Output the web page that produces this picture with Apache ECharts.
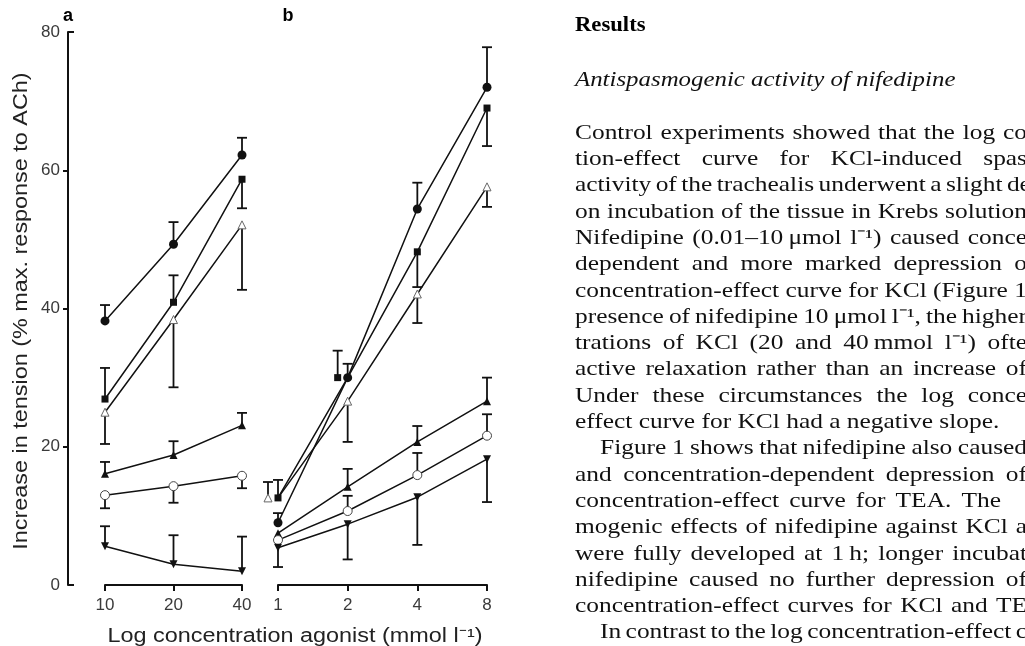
<!DOCTYPE html>
<html>
<head>
<meta charset="utf-8">
<script src="https://cdn.jsdelivr.net/npm/echarts@6/dist/echarts.min.js"></script>
<style>
  html, body { margin: 0; padding: 0; background: #fff; }
  #chart { width: 1025px; height: 646px; }
</style>
</head>
<body>
<div id="chart"></div>
<script>
// panel a: KCl (mmol l-1), panel b: TEA (mmol l-1)
const catsA = ['10', '20', '40']
const catsB = ['1', '2', '4', '8']

// panel a means and the end of the drawn error bar
const aCircle = [38.2, 49.3, 62.2]
const aCircleErr = [40.5, 52.5, 64.7]
const aSquare = [26.9, 40.9, 58.7]
const aSquareErr = [31.4, 44.8, 54.5]
const aOpenTri = [25.0, 38.4, 52.1]
const aOpenTriErr = [20.4, 28.6, 42.7]
const aTri = [16.1, 18.8, 23.1]
const aTriErr = [17.8, 20.8, 24.9]
const aOpenCircle = [13.0, 14.3, 15.8]
const aOpenCircleErr = [11.1, 11.9, 14.0]
const aInvTri = [5.6, 3.0, 2.0]
const aInvTriErr = [8.5, 7.2, 7.0]

// panel b
const bCircle = [9.0, 30.0, 54.4, 72.0]
const bCircleErr = [10.4, 32.0, 58.2, 77.8]
const bSquare = [12.6, 30.0, 48.2, 69.0]
const bSquareErr = [15.2, 33.9, 43.1, 63.5]
const bOpenTri = [12.6, 26.6, 42.1, 57.6]
const bOpenTriErr = [14.9, 20.7, 37.9, 54.7]
const bTri = [7.5, 14.2, 20.7, 26.6]
const bTriErr = [null, 16.8, 23.0, 30.0]
const bOpenCircle = [6.5, 10.7, 15.9, 21.6]
const bOpenCircleErr = [null, 12.9, 19.1, 24.7]
const bInvTri = [5.4, 8.8, 12.7, 18.2]
const bInvTriErr = [2.6, 3.7, 5.8, 12.0]

const yTicks = [0, 20, 40, 60, 80]

const bodyLines = [
  'Control experiments showed that the log co',
  'tion-effect curve for KCl-induced spas',
  'activity of the trachealis underwent a slight de',
  'on incubation of the tissue in Krebs solution',
  'Nifedipine (0.01\u201310\u2009\u03bcmol l\u207b\u00b9) caused conce',
  'dependent and more marked depression o',
  'concentration-effect curve for KCl (Figure 1',
  'presence of nifedipine 10\u2009\u03bcmol l\u207b\u00b9, the higher',
  'trations of KCl (20 and 40\u2009mmol l\u207b\u00b9) ofte',
  'active relaxation rather than an increase of',
  'Under these circumstances the log conce',
  'effect curve for KCl had a negative slope.',
  'Figure 1 shows that nifedipine also caused',
  'and concentration-dependent depression of',
  'concentration-effect curve for TEA. The',
  'mogenic effects of nifedipine against KCl a',
  'were fully developed at 1\u2009h; longer incubat',
  'nifedipine caused no further depression of',
  'concentration-effect curves for KCl and TE',
  'In contrast to the log concentration-effect c'
]

const INK = '#111'
const SANS = '"Liberation Sans", Arial, sans-serif'
const SERIF = '"Liberation Serif", "Times New Roman", serif'

// horizontal nudges (px) used in the figure to separate overlapping points
const nudge = { bSquare: [0, -10, 0, 0], bOpenTri: [-10, 0, 0, 0] }

const marks = {
  circle: { symbol: 'circle', symbolSize: 9, itemStyle: { color: INK, borderWidth: 0 } },
  square: { symbol: 'rect', symbolSize: 7, itemStyle: { color: INK, borderWidth: 0 } },
  openTri: { symbol: 'triangle', symbolSize: 8, itemStyle: { color: '#fff', borderColor: '#666', borderWidth: 1 } },
  tri: { symbol: 'triangle', symbolSize: 8, itemStyle: { color: INK, borderWidth: 0 } },
  openCircle: { symbol: 'circle', symbolSize: 9, itemStyle: { color: '#fff', borderColor: '#444', borderWidth: 1 } },
  invTri: { symbol: 'triangle', symbolSize: 8, symbolRotate: 180, itemStyle: { color: INK, borderWidth: 0 } }
}

const groups = [
  { grid: 0, key: 'aCircle', mark: 'circle', v: aCircle, e: aCircleErr },
  { grid: 0, key: 'aSquare', mark: 'square', v: aSquare, e: aSquareErr },
  { grid: 0, key: 'aOpenTri', mark: 'openTri', v: aOpenTri, e: aOpenTriErr },
  { grid: 0, key: 'aTri', mark: 'tri', v: aTri, e: aTriErr },
  { grid: 0, key: 'aOpenCircle', mark: 'openCircle', v: aOpenCircle, e: aOpenCircleErr },
  { grid: 0, key: 'aInvTri', mark: 'invTri', v: aInvTri, e: aInvTriErr },
  { grid: 1, key: 'bCircle', mark: 'circle', v: bCircle, e: bCircleErr },
  { grid: 1, key: 'bSquare', mark: 'square', v: bSquare, e: bSquareErr },
  { grid: 1, key: 'bOpenTri', mark: 'openTri', v: bOpenTri, e: bOpenTriErr },
  { grid: 1, key: 'bTri', mark: 'tri', v: bTri, e: bTriErr },
  { grid: 1, key: 'bOpenCircle', mark: 'openCircle', v: bOpenCircle, e: bOpenCircleErr },
  { grid: 1, key: 'bInvTri', mark: 'invTri', v: bInvTri, e: bInvTriErr }
]

const errorBars = (g) => {
  const dx = nudge[g.key] || []
  const data = []
  g.v.forEach((val, i) => {
    if (g.e[i] != null) data.push([i, val, g.e[i], dx[i] || 0])
  })
  return {
    type: 'custom',
    xAxisIndex: g.grid,
    yAxisIndex: g.grid,
    z: 1,
    silent: true,
    data: data,
    renderItem: (params, api) => {
      const p = api.coord([api.value(0), api.value(1)])
      const q = api.coord([api.value(0), api.value(2)])
      const x = p[0] + api.value(3)
      const style = { stroke: INK, lineWidth: 1.8 }
      return {
        type: 'group',
        children: [
          { type: 'line', shape: { x1: x, y1: p[1], x2: x, y2: q[1] }, style: style },
          { type: 'line', shape: { x1: x - 5, y1: q[1], x2: x + 5, y2: q[1] }, style: style }
        ]
      }
    }
  }
}

const lineSeries = (g) => {
  const dx = nudge[g.key] || []
  const m = marks[g.mark]
  return {
    type: 'line',
    xAxisIndex: g.grid,
    yAxisIndex: g.grid,
    z: 3,
    symbol: m.symbol,
    symbolSize: m.symbolSize,
    symbolRotate: m.symbolRotate || 0,
    showAllSymbol: true,
    lineStyle: { color: INK, width: 1.5 },
    itemStyle: m.itemStyle,
    data: g.v.map((val, i) => dx[i] ? { value: val, symbolOffset: [dx[i], 0] } : val)
  }
}

const series = []
groups.forEach(g => series.push(errorBars(g)))
groups.forEach(g => series.push(lineSeries(g)))

const mkX = (idx, cats) => ({
  type: 'category',
  gridIndex: idx,
  data: cats,
  boundaryGap: false,
  offset: 2,
  axisLine: { lineStyle: { color: INK, width: 2 } },
  axisTick: { alignWithLabel: true, length: 6, lineStyle: { color: INK, width: 2 } },
  axisLabel: { color: '#3a3a3a', fontSize: 17, fontFamily: SANS, margin: 10 }
})

const mkY = (idx, visible) => ({
  type: 'value',
  gridIndex: idx,
  position: 'left',
  min: yTicks[0],
  max: yTicks[yTicks.length - 1],
  interval: yTicks[1] - yTicks[0],
  show: visible,
  offset: 37,
  axisLine: { show: true, lineStyle: { color: INK, width: 2 } },
  // inner ticks point outwards, the two end ticks hook inwards (see yHooks)
  axisTick: { show: true, length: 5, customValues: yTicks.slice(1, -1), lineStyle: { color: INK, width: 2 } },
  axisLabel: { color: '#3a3a3a', fontSize: 17, fontFamily: SANS, margin: 8 },
  splitLine: { show: false }
})

const yHooks = {
  type: 'value',
  gridIndex: 0,
  position: 'left',
  min: yTicks[0],
  max: yTicks[yTicks.length - 1],
  interval: yTicks[yTicks.length - 1] - yTicks[0],
  offset: 37,
  axisLine: { show: false },
  axisTick: { show: true, inside: true, length: 6, lineStyle: { color: INK, width: 2 } },
  axisLabel: { show: false },
  splitLine: { show: false }
}

// justified text column on the right, as set in the printed page
// the printed face is wider than Liberation Serif, so glyphs get stretched
const BODY_PX = 22
const BODY_SX = 1.155
const FONT_BODY = BODY_PX + 'px ' + SERIF
const measure = document.createElement('canvas').getContext('2d')
measure.font = FONT_BODY
const textEls = []
bodyLines.forEach((line, i) => {
  const y = 133 + i * 26.3
  const x0 = (i === 12 || i === 19) ? 600 : 575
  const ragged = i === 11
  const end = i === 14 ? 1001 : 1027
  const words = line.split(' ')
  const widths = words.map(w => measure.measureText(w).width * BODY_SX)
  const space = measure.measureText(' ').width * BODY_SX
  const total = widths.reduce((a, b) => a + b, 0)
  const gap = ragged ? space : Math.max((end - x0 - total) / (words.length - 1), space * 0.7)
  let x = x0
  words.forEach((w, k) => {
    textEls.push({ type: 'text', x: x, y: y, scaleX: BODY_SX, style: { text: w, font: FONT_BODY, fill: '#111', verticalAlign: 'middle' } })
    x += widths[k] + gap
  })
})

const chart = echarts.init(document.getElementById('chart'))
chart.setOption({
  animation: false,
  backgroundColor: '#fff',
  grid: [
    { left: 105, top: 32, width: 137, height: 553 },
    { left: 278, top: 32, width: 209, height: 553 }
  ],
  xAxis: [mkX(0, catsA), mkX(1, catsB)],
  yAxis: [mkY(0, true), mkY(1, false), yHooks],
  series: series,
  graphic: [
    { type: 'text', x: 68, y: 16, style: { text: 'a', font: 'bold 18px ' + SANS, fill: '#000', align: 'center', verticalAlign: 'middle' } },
    { type: 'text', x: 288, y: 16, style: { text: 'b', font: 'bold 18px ' + SANS, fill: '#000', align: 'center', verticalAlign: 'middle' } },
    { type: 'text', x: 22, y: 311, rotation: Math.PI / 2, scaleX: 1.2, style: { text: 'Increase in tension (% max. response to ACh)', font: '19.5px ' + SANS, fill: '#222', align: 'center', verticalAlign: 'middle' } },
    { type: 'text', x: 295, y: 637, scaleX: 1.2, style: { text: 'Log concentration agonist (mmol l\u207b\u00b9)', font: '19.5px ' + SANS, fill: '#222', align: 'center', verticalAlign: 'middle' } },
    { type: 'text', x: 575, y: 25, scaleX: 1.03, style: { text: 'Results', font: 'bold 22px ' + SERIF, fill: '#000', verticalAlign: 'middle' } },
    { type: 'text', x: 575, y: 80, scaleX: 1.13, style: { text: 'Antispasmogenic activity of nifedipine', font: 'italic 22px ' + SERIF, fill: '#111', verticalAlign: 'middle' } }
  ].concat(textEls)
})
</script>
</body>
</html>
